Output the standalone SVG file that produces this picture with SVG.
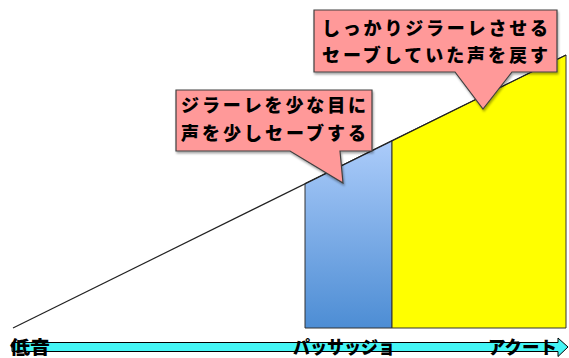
<svg xmlns="http://www.w3.org/2000/svg" width="569" height="358" viewBox="0 0 569 358">
<style>
.jp{font-family:"Noto Sans CJK JP","Noto Sans CJK SC",sans-serif;font-weight:900;fill:#000}
.call{fill:#ff9999;stroke:#404040;stroke-width:1.2}
.edge{stroke:#222;stroke-width:1.2;fill:none}
</style>
<defs>
<linearGradient id="blueg" x1="0" y1="0" x2="0" y2="1">
<stop offset="0" stop-color="#acccfa"/>
<stop offset="1" stop-color="#4d8dd4"/>
</linearGradient>
<filter id="sh" x="-5%" y="-5%" width="110%" height="130%">
<feDropShadow dx="1" dy="2" stdDeviation="1" flood-color="#000" flood-opacity="0.35"/>
</filter>
</defs>
<rect width="569" height="358" fill="#fff"/>
<g id="triangle">
<polygon points="13,328 566,55 566,328" fill="#fff"/>
</g>
<g id="passaggio-zone">
<polygon points="305,183.5 392,140.5 392,328 305,328" fill="url(#blueg)" stroke="#333" stroke-width="1"/>
</g>
<g id="acuto-zone">
<polygon points="392,140.5 566,55 566,328 392,328" fill="#ffff00" stroke="#333" stroke-width="1"/>
</g>
<g id="connectors">
<line class="edge" x1="13" y1="328" x2="566" y2="55"/>
<line x1="13" y1="328" x2="566" y2="328" stroke="#444" stroke-width="2.5" filter="url(#sh)"/>
<polygon id="axis-arrow" points="12,342.5 558,342.5 558,338 568,347 558,356.5 558,351.5 12,351.5" fill="#44f5f5" stroke="#000" stroke-width="1"/>
</g>
<g id="label-teion"><text class="jp" x="10" y="354" font-size="18.5" textLength="40" lengthAdjust="spacingAndGlyphs">低音</text></g>
<g id="label-passaggio"><text class="jp" x="293" y="354" font-size="18" textLength="102" lengthAdjust="spacingAndGlyphs">パッサッジョ</text></g>
<g id="label-acuto"><text class="jp" x="488" y="354" font-size="18" textLength="69" lengthAdjust="spacingAndGlyphs">アクート</text></g>
<g id="callout-1">
<path class="call" d="M176,90 H372 V151 H340 L343,183 L290,151 H176 Z" filter="url(#sh)"/>
<text class="jp" x="181" y="111.5" font-size="18" textLength="185">ジラーレを少な目に</text>
<text class="jp" x="181" y="139.5" font-size="18" textLength="185">声を少しセーブする</text>
</g>
<g id="callout-2">
<path class="call" d="M314,10 H557 V72 H512 L483,109 L455,72 H314 Z" filter="url(#sh)"/>
<text class="jp" x="322" y="34.5" font-size="18" textLength="226">しっかりジラーレさせる</text>
<text class="jp" x="322" y="61.5" font-size="18" textLength="226">セーブしていた声を戻す</text>
</g>
</svg>
